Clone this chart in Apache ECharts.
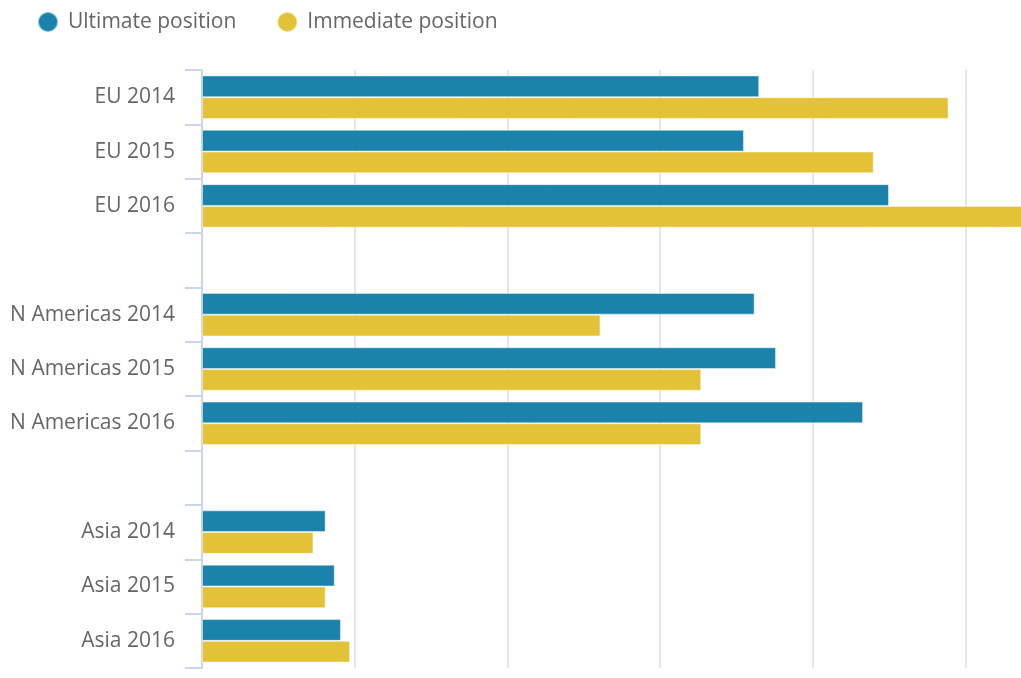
<!DOCTYPE html>
<html>
<head>
<meta charset="utf-8">
<script src="https://cdn.jsdelivr.net/npm/echarts@6/dist/echarts.min.js"></script>
<style>
  html, body { margin: 0; padding: 0; background: #fff; }
  #main { width: 1021px; height: 678px; }
</style>
</head>
<body>
<div id="main"></div>
<script>
// categories (blank entries separate the regions)
var categories = ['EU 2014', 'EU 2015', 'EU 2016', '', 'N Americas 2014', 'N Americas 2015', 'N Americas 2016', ' ', 'Asia 2014', 'Asia 2015', 'Asia 2016'];
var ultimate = [36.5, 35.5, 45.0, null, 36.2, 37.6, 43.3, null, 8.1, 8.7, 9.1];
var immediate = [48.9, 44.0, 56.0, null, 26.1, 32.7, 32.7, null, 7.3, 8.1, 9.7];

var chartDom = document.getElementById('main');
var myChart = echarts.init(chartDom);
var option;
option = {
  animation: false,
  textStyle: { fontFamily: 'Open Sans' },
  legend: {
    left: 32,
    top: 6,
    icon: 'circle',
    itemWidth: 22,
    itemHeight: 20,
    itemGap: 40,
    textStyle: { fontSize: 21, color: '#666666', fontFamily: 'Open Sans', padding: [0, 0, 0, 4] }
  },
  grid: {
    left: 202,
    top: 70,
    width: 916,
    height: 598,
    outerBoundsMode: 'none'
  },
  xAxis: {
    type: 'value',
    min: 0,
    max: 60,
    interval: 10,
    axisLabel: { show: false },
    axisLine: { show: false },
    axisTick: { show: false },
    splitLine: { lineStyle: { color: '#e6e6e6', width: 2 } }
  },
  yAxis: {
    type: 'category',
    inverse: true,
    data: categories,
    axisLine: { show: true, lineStyle: { color: '#ccd6eb', width: 2 } },
    axisTick: { show: true, length: 17, lineStyle: { color: '#ccd6eb', width: 2 } },
    axisLabel: { fontSize: 21, color: '#666666', margin: 27, fontFamily: 'Open Sans', padding: [4, 0, 0, 0] }
  },
  series: [
    {
      name: 'Ultimate position',
      type: 'bar',
      data: ultimate,
      barGap: '0%',
      barCategoryGap: '20%',
      itemStyle: { color: '#1a82ab', borderColor: 'rgba(255,255,255,0.45)', borderWidth: 1 }
    },
    {
      name: 'Immediate position',
      type: 'bar',
      data: immediate,
      itemStyle: { color: '#e3c238', borderColor: 'rgba(255,255,255,0.45)', borderWidth: 1 }
    }
  ]
};
option && myChart.setOption(option);
</script>
</body>
</html>
